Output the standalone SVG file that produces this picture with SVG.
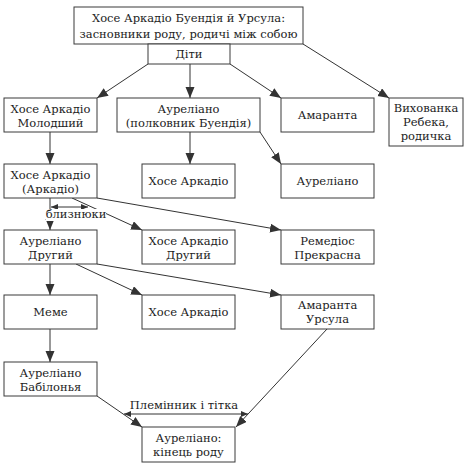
<svg xmlns="http://www.w3.org/2000/svg" width="467" height="468" viewBox="0 0 467 468">
<style>
.box{fill:#fff;stroke:#3a3a3a;stroke-width:1}
.t{font-family:"DejaVu Serif","Liberation Serif",serif;font-size:11.5px;fill:#222;text-anchor:middle}
.c{stroke:#333;stroke-width:1;fill:none}
</style>
<defs>
<marker id="ah" markerWidth="12" markerHeight="10" refX="11" refY="4.5" orient="auto" markerUnits="userSpaceOnUse">
<path d="M0,0 L11,4.5 L0,9 z" fill="#333"/>
</marker>
<marker id="sh" markerWidth="8" markerHeight="6" refX="7" refY="3" orient="auto-start-reverse" markerUnits="userSpaceOnUse">
<path d="M0,0 L7,3 L0,6 z" fill="#333"/>
</marker>
</defs>
<rect width="467" height="468" fill="#fff"/>
<g id="connectors">
<line class="c" x1="148" y1="64" x2="97" y2="98" marker-end="url(#ah)"/>
<line class="c" x1="190" y1="64" x2="190" y2="98" marker-end="url(#ah)"/>
<line class="c" x1="230" y1="64" x2="281" y2="98" marker-end="url(#ah)"/>
<line class="c" x1="303" y1="44" x2="389" y2="98" marker-end="url(#ah)"/>
<line class="c" x1="50" y1="132" x2="50" y2="164" marker-end="url(#ah)"/>
<line class="c" x1="190" y1="132" x2="190" y2="164" marker-end="url(#ah)"/>
<line class="c" x1="260" y1="132" x2="281" y2="164" marker-end="url(#ah)"/>
<line class="c" x1="50" y1="198" x2="50" y2="230" marker-end="url(#ah)"/>
<line class="c" x1="72" y1="198" x2="142" y2="230" marker-end="url(#ah)"/>
<line class="c" x1="97" y1="198" x2="281" y2="230" marker-end="url(#ah)"/>
<line class="c" x1="51" y1="207" x2="88" y2="207" marker-start="url(#sh)" marker-end="url(#sh)"/>
<line class="c" x1="50" y1="264" x2="50" y2="295" marker-end="url(#ah)"/>
<line class="c" x1="76" y1="264" x2="142" y2="295" marker-end="url(#ah)"/>
<line class="c" x1="97" y1="264" x2="281" y2="295" marker-end="url(#ah)"/>
<line class="c" x1="50" y1="329" x2="50" y2="362" marker-end="url(#ah)"/>
<line class="c" x1="97" y1="396" x2="142" y2="427" marker-end="url(#ah)"/>
<line class="c" x1="327" y1="329" x2="236" y2="427" marker-end="url(#ah)"/>
<line class="c" x1="124" y1="414" x2="248" y2="414" marker-start="url(#sh)" marker-end="url(#sh)"/>
<rect x="46" y="209" width="60" height="12" fill="#fff"/>
<text class="t" x="76" y="218">близнюки</text>
<text class="t" x="184" y="409">Племінник і тітка</text>
</g>
<g id="n-founders"><rect class="box" x="74" y="7" width="229" height="37"/><text class="t" x="188.5" y="22">Хосе Аркадіо Буендія й Урсула:</text><text class="t" x="188.5" y="38">засновники роду, родичі між собою</text></g>
<g id="n-children"><rect class="box" x="148" y="44" width="82" height="20"/><text class="t" x="189" y="58">Діти</text></g>
<g id="n-ja-jr"><rect class="box" x="4" y="98" width="93" height="34"/><text class="t" x="50.5" y="113">Хосе Аркадіо</text><text class="t" x="50.5" y="127">Молодший</text></g>
<g id="n-aureliano-col"><rect class="box" x="117" y="98" width="143" height="34"/><text class="t" x="188.5" y="113">Ауреліано</text><text class="t" x="188.5" y="127">(полковник Буендія)</text></g>
<g id="n-amaranta"><rect class="box" x="281" y="98" width="93" height="34"/><text class="t" x="327.5" y="119">Амаранта</text></g>
<g id="n-rebeca"><rect class="box" x="389" y="98" width="74" height="48"/><text class="t" x="426" y="112">Вихованка</text><text class="t" x="426" y="126">Ребека,</text><text class="t" x="426" y="140">родичка</text></g>
<g id="n-arcadio"><rect class="box" x="4" y="164" width="93" height="34"/><text class="t" x="50.5" y="179">Хосе Аркадіо</text><text class="t" x="50.5" y="193">(Аркадіо)</text></g>
<g id="n-ja-son"><rect class="box" x="142" y="164" width="93" height="34"/><text class="t" x="188.5" y="185">Хосе Аркадіо</text></g>
<g id="n-aureliano-son"><rect class="box" x="281" y="164" width="93" height="34"/><text class="t" x="327.5" y="185">Ауреліано</text></g>
<g id="n-aureliano-2"><rect class="box" x="4" y="230" width="93" height="34"/><text class="t" x="50.5" y="245">Ауреліано</text><text class="t" x="50.5" y="259">Другий</text></g>
<g id="n-ja-2"><rect class="box" x="142" y="230" width="93" height="34"/><text class="t" x="188.5" y="245">Хосе Аркадіо</text><text class="t" x="188.5" y="259">Другий</text></g>
<g id="n-remedios"><rect class="box" x="281" y="230" width="93" height="34"/><text class="t" x="327.5" y="245">Ремедіос</text><text class="t" x="327.5" y="259">Прекрасна</text></g>
<g id="n-meme"><rect class="box" x="4" y="295" width="93" height="34"/><text class="t" x="50.5" y="316">Меме</text></g>
<g id="n-ja-3"><rect class="box" x="142" y="295" width="93" height="34"/><text class="t" x="188.5" y="316">Хосе Аркадіо</text></g>
<g id="n-amaranta-ursula"><rect class="box" x="281" y="295" width="93" height="34"/><text class="t" x="327.5" y="309">Амаранта</text><text class="t" x="327.5" y="323">Урсула</text></g>
<g id="n-babilonia"><rect class="box" x="4" y="362" width="93" height="34"/><text class="t" x="50.5" y="377">Ауреліано</text><text class="t" x="50.5" y="391">Бабілонья</text></g>
<g id="n-end"><rect class="box" x="142" y="427" width="93" height="35"/><text class="t" x="188.5" y="442">Ауреліано:</text><text class="t" x="188.5" y="456">кінець роду</text></g>
</svg>
